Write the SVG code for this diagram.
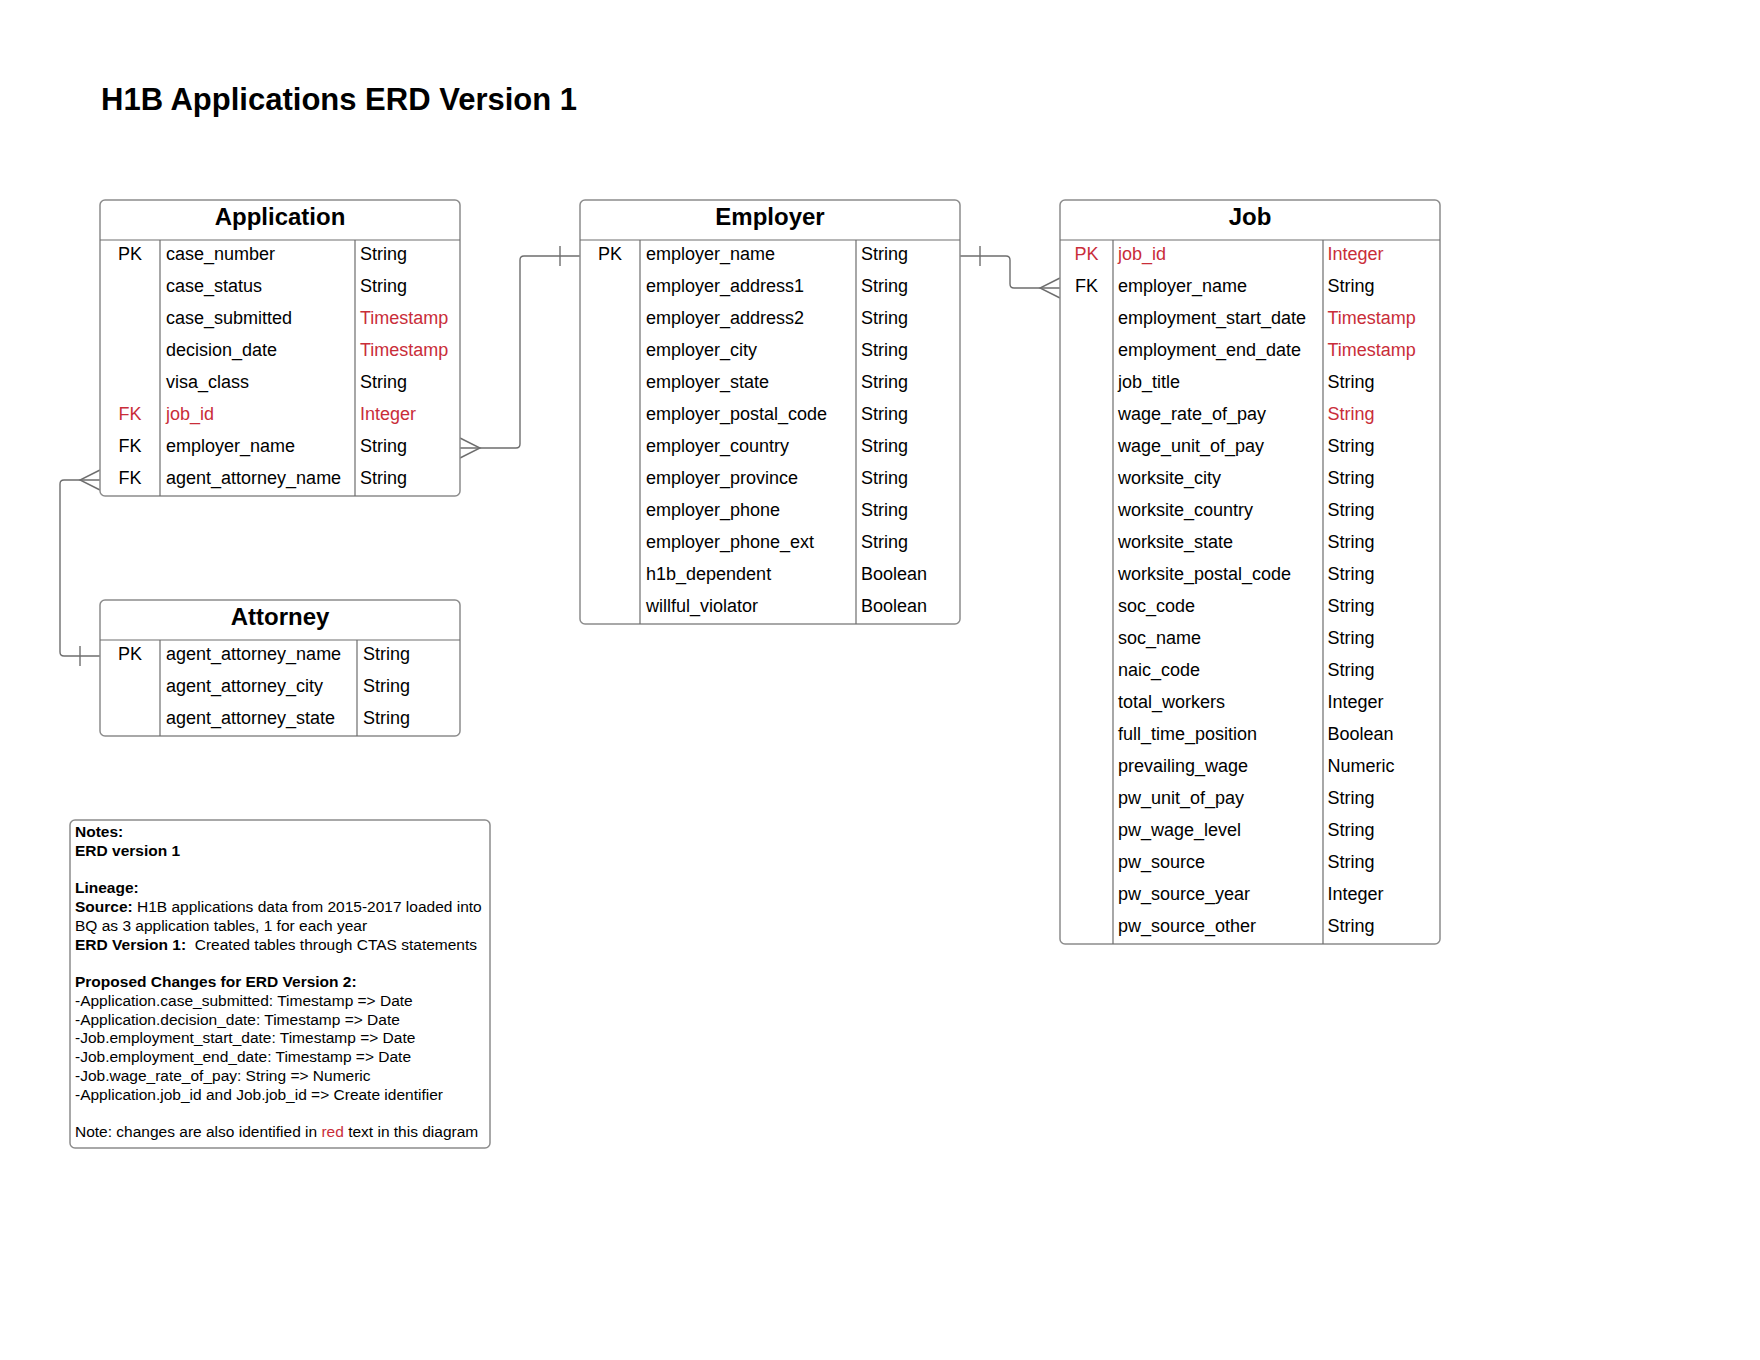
<svg xmlns="http://www.w3.org/2000/svg" width="1760" height="1360" viewBox="0 0 1760 1360">
<style>
text{font-family:"Liberation Sans",Arial,sans-serif;fill:#000}
.title{font-size:31px;font-weight:bold}
.hd{font-size:24px;font-weight:bold;text-anchor:middle}
.f{font-size:18px}
.k{font-size:18px;text-anchor:middle}
.r{fill:#c92d39}
.box{fill:#fff;stroke:#8c8c8c;stroke-width:1.5}
.div{stroke:#6e6e6e;stroke-width:1.2;fill:none}
.con{stroke:#6e6e6e;stroke-width:1.4;fill:none}
.n{font-size:15.5px}
.b{font-weight:bold}
</style>
<rect width="1760" height="1360" fill="#fff"/>
<text class="title" x="101" y="110">H1B Applications ERD Version 1</text>

<g id="connectors">
<path class="con" d="M460,448 L516,448 Q520,448 520,444 L520,260 Q520,256 524,256 L580,256"/>
<path class="con" d="M460,438 L480,448 L460,458"/>
<path class="con" d="M560,246 L560,266"/>
<path class="con" d="M960,256 L1006,256 Q1010,256 1010,260 L1010,284 Q1010,288 1014,288 L1060,288"/>
<path class="con" d="M980,246 L980,266"/>
<path class="con" d="M1060,278 L1040,288 L1060,298"/>
<path class="con" d="M100,480 L64,480 Q60,480 60,484 L60,652 Q60,656 64,656 L100,656"/>
<path class="con" d="M100,470 L80,480 L100,490"/>
<path class="con" d="M80,646 L80,666"/>
</g>

<g id="application">
<rect class="box" x="100" y="200" width="360" height="296" rx="5"/>
<path class="div" d="M100,240 H460 M160,240 V496 M355,240 V496"/>
<text class="hd" x="280" y="225">Application</text>
<text class="k" x="130" y="260">PK</text><text class="f" x="166" y="260">case_number</text><text class="f" x="360" y="260">String</text>
<text class="f" x="166" y="292">case_status</text><text class="f" x="360" y="292">String</text>
<text class="f" x="166" y="324">case_submitted</text><text class="f r" x="360" y="324">Timestamp</text>
<text class="f" x="166" y="356">decision_date</text><text class="f r" x="360" y="356">Timestamp</text>
<text class="f" x="166" y="388">visa_class</text><text class="f" x="360" y="388">String</text>
<text class="k r" x="130" y="420">FK</text><text class="f r" x="166" y="420">job_id</text><text class="f r" x="360" y="420">Integer</text>
<text class="k" x="130" y="452">FK</text><text class="f" x="166" y="452">employer_name</text><text class="f" x="360" y="452">String</text>
<text class="k" x="130" y="484">FK</text><text class="f" x="166" y="484">agent_attorney_name</text><text class="f" x="360" y="484">String</text>
</g>

<g id="attorney">
<rect class="box" x="100" y="600" width="360" height="136" rx="5"/>
<path class="div" d="M100,640 H460 M160,640 V736 M357,640 V736"/>
<text class="hd" x="280" y="625">Attorney</text>
<text class="k" x="130" y="660">PK</text><text class="f" x="166" y="660">agent_attorney_name</text><text class="f" x="363" y="660">String</text>
<text class="f" x="166" y="692">agent_attorney_city</text><text class="f" x="363" y="692">String</text>
<text class="f" x="166" y="724">agent_attorney_state</text><text class="f" x="363" y="724">String</text>
</g>

<g id="employer">
<rect class="box" x="580" y="200" width="380" height="424" rx="5"/>
<path class="div" d="M580,240 H960 M640,240 V624 M856,240 V624"/>
<text class="hd" x="770" y="225">Employer</text>
<text class="k" x="610" y="260">PK</text><text class="f" x="646" y="260">employer_name</text><text class="f" x="861" y="260">String</text>
<text class="f" x="646" y="292">employer_address1</text><text class="f" x="861" y="292">String</text>
<text class="f" x="646" y="324">employer_address2</text><text class="f" x="861" y="324">String</text>
<text class="f" x="646" y="356">employer_city</text><text class="f" x="861" y="356">String</text>
<text class="f" x="646" y="388">employer_state</text><text class="f" x="861" y="388">String</text>
<text class="f" x="646" y="420">employer_postal_code</text><text class="f" x="861" y="420">String</text>
<text class="f" x="646" y="452">employer_country</text><text class="f" x="861" y="452">String</text>
<text class="f" x="646" y="484">employer_province</text><text class="f" x="861" y="484">String</text>
<text class="f" x="646" y="516">employer_phone</text><text class="f" x="861" y="516">String</text>
<text class="f" x="646" y="548">employer_phone_ext</text><text class="f" x="861" y="548">String</text>
<text class="f" x="646" y="580">h1b_dependent</text><text class="f" x="861" y="580">Boolean</text>
<text class="f" x="646" y="612">willful_violator</text><text class="f" x="861" y="612">Boolean</text>
</g>

<g id="job">
<rect class="box" x="1060" y="200" width="380" height="744" rx="5"/>
<path class="div" d="M1060,240 H1440 M1113,240 V944 M1323,240 V944"/>
<text class="hd" x="1250" y="225">Job</text>
<text class="k r" x="1086.5" y="260">PK</text><text class="f r" x="1118" y="260">job_id</text><text class="f r" x="1327.5" y="260">Integer</text>
<text class="k" x="1086.5" y="292">FK</text><text class="f" x="1118" y="292">employer_name</text><text class="f" x="1327.5" y="292">String</text>
<text class="f" x="1118" y="324">employment_start_date</text><text class="f r" x="1327.5" y="324">Timestamp</text>
<text class="f" x="1118" y="356">employment_end_date</text><text class="f r" x="1327.5" y="356">Timestamp</text>
<text class="f" x="1118" y="388">job_title</text><text class="f" x="1327.5" y="388">String</text>
<text class="f" x="1118" y="420">wage_rate_of_pay</text><text class="f r" x="1327.5" y="420">String</text>
<text class="f" x="1118" y="452">wage_unit_of_pay</text><text class="f" x="1327.5" y="452">String</text>
<text class="f" x="1118" y="484">worksite_city</text><text class="f" x="1327.5" y="484">String</text>
<text class="f" x="1118" y="516">worksite_country</text><text class="f" x="1327.5" y="516">String</text>
<text class="f" x="1118" y="548">worksite_state</text><text class="f" x="1327.5" y="548">String</text>
<text class="f" x="1118" y="580">worksite_postal_code</text><text class="f" x="1327.5" y="580">String</text>
<text class="f" x="1118" y="612">soc_code</text><text class="f" x="1327.5" y="612">String</text>
<text class="f" x="1118" y="644">soc_name</text><text class="f" x="1327.5" y="644">String</text>
<text class="f" x="1118" y="676">naic_code</text><text class="f" x="1327.5" y="676">String</text>
<text class="f" x="1118" y="708">total_workers</text><text class="f" x="1327.5" y="708">Integer</text>
<text class="f" x="1118" y="740">full_time_position</text><text class="f" x="1327.5" y="740">Boolean</text>
<text class="f" x="1118" y="772">prevailing_wage</text><text class="f" x="1327.5" y="772">Numeric</text>
<text class="f" x="1118" y="804">pw_unit_of_pay</text><text class="f" x="1327.5" y="804">String</text>
<text class="f" x="1118" y="836">pw_wage_level</text><text class="f" x="1327.5" y="836">String</text>
<text class="f" x="1118" y="868">pw_source</text><text class="f" x="1327.5" y="868">String</text>
<text class="f" x="1118" y="900">pw_source_year</text><text class="f" x="1327.5" y="900">Integer</text>
<text class="f" x="1118" y="932">pw_source_other</text><text class="f" x="1327.5" y="932">String</text>
</g>

<g id="notes">
<rect class="box" x="70" y="820" width="420" height="328" rx="5"/>
<text class="n b" x="75" y="837">Notes:</text>
<text class="n b" x="75" y="855.75">ERD version 1</text>
<text class="n b" x="75" y="893.25">Lineage:</text>
<text class="n" x="75" y="912"><tspan class="b">Source:</tspan> H1B applications data from 2015-2017 loaded into</text>
<text class="n" x="75" y="930.75">BQ as 3 application tables, 1 for each year</text>
<text class="n" x="75" y="949.5" xml:space="preserve"><tspan class="b">ERD Version 1:</tspan>  Created tables through CTAS statements</text>
<text class="n b" x="75" y="987">Proposed Changes for ERD Version 2:</text>
<text class="n" x="75" y="1005.75">-Application.case_submitted: Timestamp =&gt; Date</text>
<text class="n" x="75" y="1024.5">-Application.decision_date: Timestamp =&gt; Date</text>
<text class="n" x="75" y="1043.25">-Job.employment_start_date: Timestamp =&gt; Date</text>
<text class="n" x="75" y="1062">-Job.employment_end_date: Timestamp =&gt; Date</text>
<text class="n" x="75" y="1080.75">-Job.wage_rate_of_pay: String =&gt; Numeric</text>
<text class="n" x="75" y="1099.5">-Application.job_id and Job.job_id =&gt; Create identifier</text>
<text class="n" x="75" y="1137">Note: changes are also identified in <tspan class="r">red</tspan> text in this diagram</text>
</g>
</svg>
